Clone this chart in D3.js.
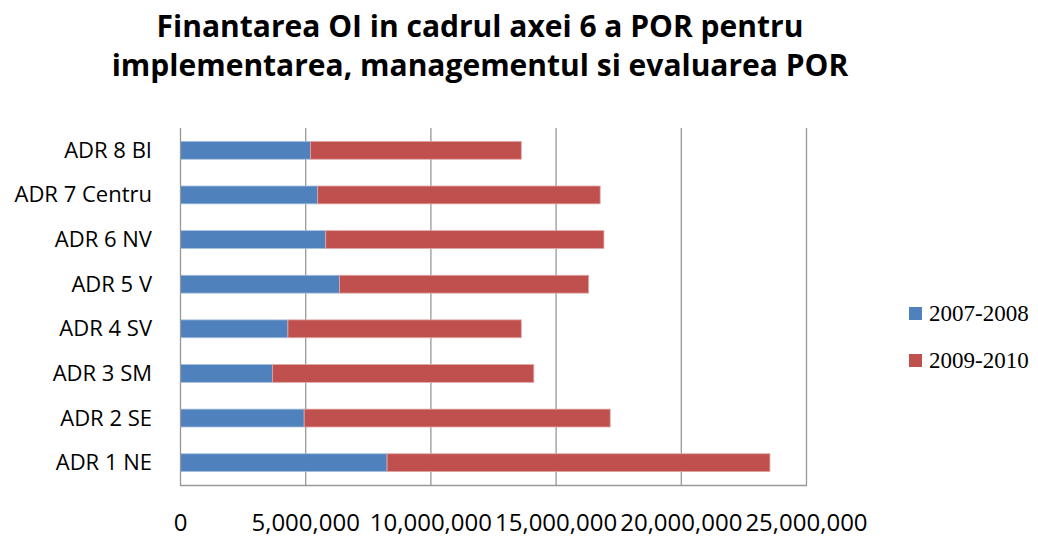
<!DOCTYPE html>
<html>
<head>
<meta charset="utf-8">
<script src="https://cdn.jsdelivr.net/npm/d3@7"></script>
<style>
  html, body { margin: 0; padding: 0; background: #fff; }
  svg { display: block; }
</style>
</head>
<body>
<svg id="chart" width="1038" height="539"></svg>
<script>
const categories = ["ADR 8 BI", "ADR 7 Centru", "ADR 6 NV", "ADR 5 V", "ADR 4 SV", "ADR 3 SM", "ADR 2 SE", "ADR 1 NE"];
const series2007_2008 = [5190000, 5480000, 5800000, 6350000, 4290000, 3670000, 4940000, 8250000];
const series2009_2010 = [8420000, 11280000, 11110000, 9950000, 9320000, 10440000, 12220000, 15290000];
const seriesNames = ["2007-2008", "2009-2010"];
const seriesColors = ["#4F81BD", "#C0504D"];
const tickValues = [0, 5000000, 10000000, 15000000, 20000000, 25000000];
const titleLines = ["Finantarea OI in cadrul axei 6 a POR pentru", "implementarea, managementul si evaluarea POR"];

const svg = d3.select("#chart");
const sansFont = "'Open Sans', Lato, sans-serif";

const x = d3.scaleLinear().domain([0, 25000000]).range([180.5, 806.5]);
const y = d3.scaleBand().domain(categories).range([128, 485]).paddingInner(0.6).paddingOuter(0.3);

// gridlines
svg.append("g")
  .selectAll("line")
  .data(tickValues.slice(1))
  .join("line")
  .attr("x1", d => x(d)).attr("x2", d => x(d))
  .attr("y1", 128).attr("y2", 485)
  .attr("stroke", "#989898").attr("stroke-width", 1.3);

// stacked bars
const rows = categories.map((c, i) => ({ cat: c, a: series2007_2008[i], b: series2009_2010[i] }));
const stack = d3.stack().keys(["a", "b"])(rows);
stack.forEach((layer, li) => {
  svg.append("g")
    .selectAll("rect")
    .data(layer)
    .join("rect")
    .attr("x", d => x(d[0]))
    .attr("y", d => y(d.data.cat))
    .attr("width", d => x(d[1]) - x(d[0]))
    .attr("height", y.bandwidth())
    .attr("fill", seriesColors[li])
    .attr("stroke", li === 0 ? "#A7C0DE" : "#DFA8A6")
    .attr("stroke-width", 0.8);
});

// axes lines
svg.append("line").attr("x1", 180.5).attr("x2", 180.5).attr("y1", 128).attr("y2", 485.5)
  .attr("stroke", "#989898").attr("stroke-width", 1.3);
svg.append("line").attr("x1", 180).attr("x2", 807).attr("y1", 485.5).attr("y2", 485.5)
  .attr("stroke", "#989898").attr("stroke-width", 1.3);

// category labels
svg.append("g")
  .selectAll("text")
  .data(categories)
  .join("text")
  .attr("x", 152)
  .attr("y", d => y(d) + y.bandwidth() / 2 + 7.5)
  .attr("text-anchor", "end")
  .attr("font-family", sansFont)
  .attr("font-size", 22)
  .attr("fill", "#000")
  .text(d => d);

// value axis tick labels
const fmt = d3.format(",");
svg.append("g")
  .selectAll("text")
  .data(tickValues)
  .join("text")
  .attr("x", d => x(d))
  .attr("y", 531)
  .attr("text-anchor", "middle")
  .attr("font-family", sansFont)
  .attr("font-size", 24)
  .attr("fill", "#000")
  .text(d => fmt(d));

// title
svg.append("g")
  .selectAll("text")
  .data(titleLines)
  .join("text")
  .attr("x", 480)
  .attr("y", (d, i) => 37 + i * 39)
  .attr("text-anchor", "middle")
  .attr("font-family", sansFont)
  .attr("font-weight", "bold")
  .attr("font-size", 30)
  .attr("fill", "#000")
  .text(d => d);

// legend
const legend = svg.append("g")
  .selectAll("g")
  .data(seriesNames)
  .join("g")
  .attr("transform", (d, i) => `translate(909, ${307 + i * 47})`);
legend.append("rect")
  .attr("width", 13).attr("height", 13)
  .attr("fill", (d, i) => seriesColors[i]);
legend.append("text")
  .attr("x", 20).attr("y", 14)
  .attr("font-family", "'Liberation Serif', 'Times New Roman', serif")
  .attr("font-size", 23)
  .attr("fill", "#000")
  .text(d => d);
</script>
</body>
</html>
